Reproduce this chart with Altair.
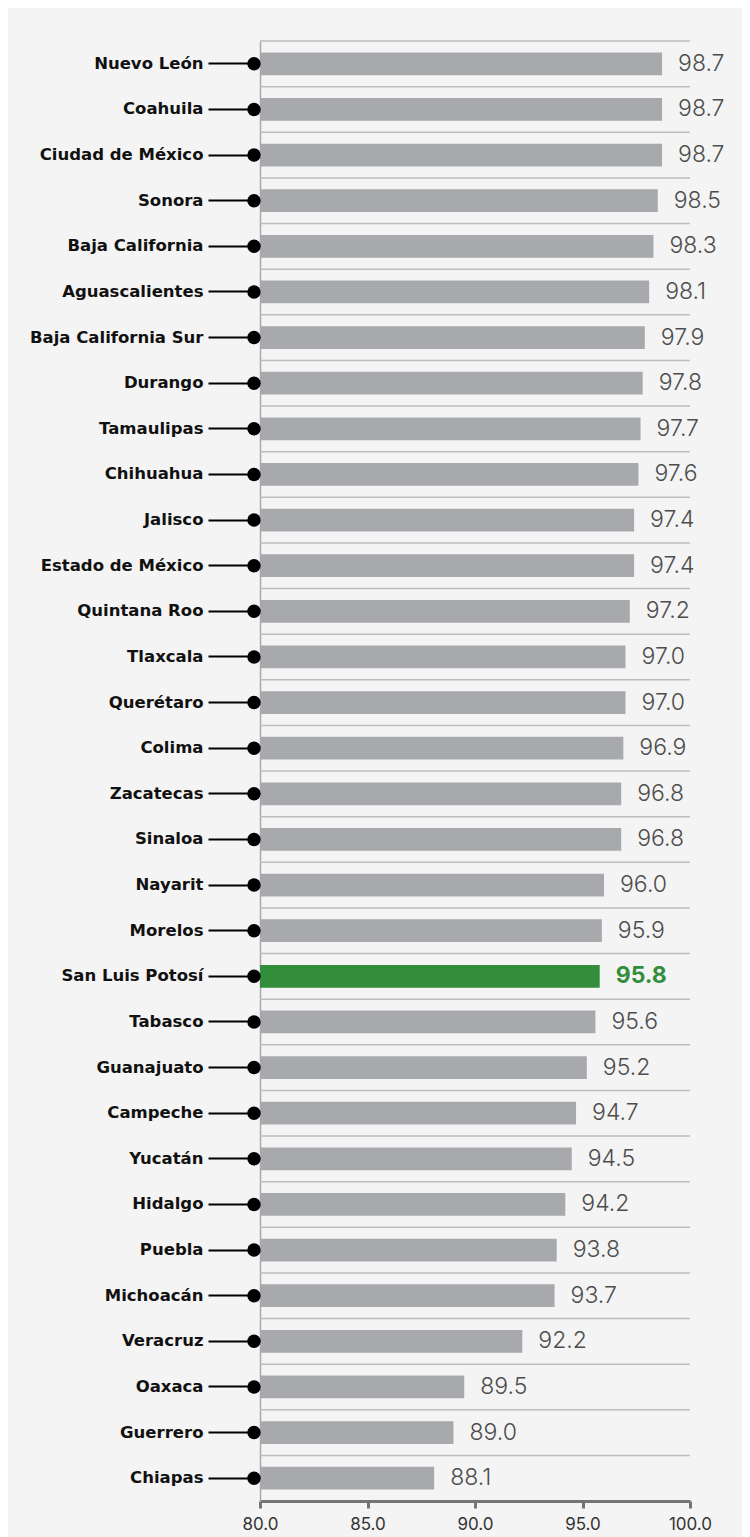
import altair as alt
import pandas as pd

states = ["Nuevo León", "Coahuila", "Ciudad de México", "Sonora", "Baja California",
          "Aguascalientes", "Baja California Sur", "Durango", "Tamaulipas", "Chihuahua",
          "Jalisco", "Estado de México", "Quintana Roo", "Tlaxcala", "Querétaro", "Colima",
          "Zacatecas", "Sinaloa", "Nayarit", "Morelos", "San Luis Potosí", "Tabasco",
          "Guanajuato", "Campeche", "Yucatán", "Hidalgo", "Puebla", "Michoacán", "Veracruz",
          "Oaxaca", "Guerrero", "Chiapas"]
values = [98.7, 98.7, 98.7, 98.5, 98.3, 98.1, 97.9, 97.8, 97.7, 97.6, 97.4, 97.4, 97.2,
          97.0, 97.0, 96.9, 96.8, 96.8, 96.0, 95.9, 95.8, 95.6, 95.2, 94.7, 94.5, 94.2,
          93.8, 93.7, 92.2, 89.5, 89.0, 88.1]
highlight = "San Luis Potosí"
x_ticks = [80, 85, 90, 95, 100]

GRAY = "#a8a9ac"
GREEN = "#338e3b"
H = 1460
STEP = H / len(states)

df = pd.DataFrame({"estado": states, "valor": values})
df["destacado"] = df["estado"] == highlight
df["etiqueta"] = df["valor"].map(lambda v: f"{v:.1f}")

xscale = alt.Scale(domain=[x_ticks[0], x_ticks[-1]], nice=False, zero=False)
yscale = alt.Scale(paddingInner=0, paddingOuter=0)

x_axis = alt.Axis(orient="bottom", values=x_ticks, format=".1f", grid=False,
                  domainColor="#747474", domainWidth=3,
                  tickColor="#747474", tickWidth=3, tickSize=7,
                  labelFont="Inter", labelFontSize=17, labelColor="#333333",
                  labelPadding=8, labelFlush=False, labelOverlap=False)
y_axis = alt.Axis(orient="left", grid=False, domainColor="#a9a9a9", domainWidth=1.5,
                  tickColor="#000000", tickWidth=2, tickSize=52, labelPadding=5,
                  labelFont="DejaVu Sans", labelFontWeight="bold", labelFontSize=16.5,
                  labelColor="#111111", labelLimit=0)

x_enc = alt.X("valor:Q", scale=xscale, title=None, axis=x_axis)
y_enc = alt.Y("estado:N", sort=states, scale=yscale, title=None, axis=y_axis)

base = alt.Chart(df)

bars = base.mark_bar(height=alt.RelativeBandSize(0.5)).encode(
    x=x_enc,
    x2=alt.datum(x_ticks[0]),
    y=y_enc,
    color=alt.condition(alt.datum.destacado, alt.value(GREEN), alt.value(GRAY)),
)

# separators between rows (top edge of each band)
separators = base.mark_rule(color="#bdbdbd", strokeWidth=1.5, yOffset=-STEP / 2).encode(
    y=y_enc,
)

dots = base.mark_circle(size=180, color="#000000", opacity=1, xOffset=-6).encode(
    x=alt.X(datum=x_ticks[0], scale=xscale, title=None, axis=x_axis),
    y=y_enc,
)

txt_normal = base.transform_filter(~alt.datum.destacado).mark_text(
    align="left", baseline="middle", dx=16, font="Inter", fontSize=23,
    fontWeight=300, color="#4d4d4d"
).encode(
    x=x_enc,
    y=y_enc,
    text="etiqueta:N",
)

txt_high = base.transform_filter(alt.datum.destacado).mark_text(
    align="left", baseline="middle", dx=16, font="Inter", fontSize=23,
    fontWeight="bold", color=GREEN
).encode(
    x=x_enc,
    y=y_enc,
    text="etiqueta:N",
)

chart = alt.layer(bars, separators, dots, txt_normal, txt_high).properties(
    width=430, height=H,
    autosize=alt.AutoSizeParams(type="none"),
    padding={"left": 252, "top": 33, "right": 52, "bottom": 36},
).configure(background="#f4f4f4").configure_view(stroke=None)

chart.save("out.html", embed_options={"renderer": "svg", "actions": False})
